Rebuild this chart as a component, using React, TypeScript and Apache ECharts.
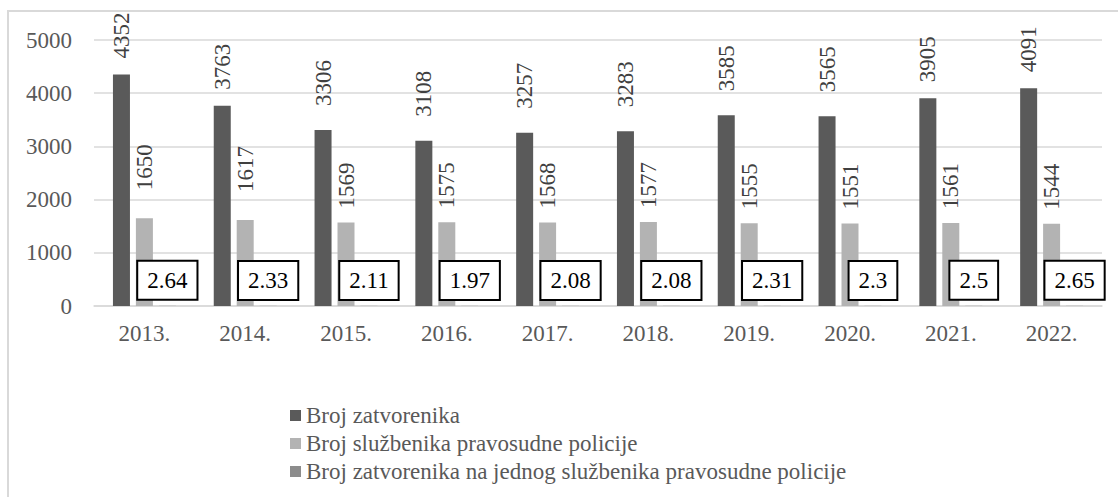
import React, { useEffect, useRef } from "react";
import * as echarts from "echarts";

const categories = ["2013.", "2014.", "2015.", "2016.", "2017.", "2018.", "2019.", "2020.", "2021.", "2022."];
const prisoners = [4352, 3763, 3306, 3108, 3257, 3283, 3585, 3565, 3905, 4091];
const officers = [1650, 1617, 1569, 1575, 1568, 1577, 1555, 1551, 1561, 1544];
const ratio = [2.64, 2.33, 2.11, 1.97, 2.08, 2.08, 2.31, 2.3, 2.5, 2.65];
const seriesNames = [
  "Broj zatvorenika",
  "Broj službenika pravosudne policije",
  "Broj zatvorenika na jednog službenika pravosudne policije",
];

const FONT = "Liberation Serif, Times New Roman, serif";

export default function App() {
  const ref = useRef<HTMLDivElement>(null);
  useEffect(() => {
    document.body.style.margin = "0";
    const chart = echarts.init(ref.current!, null, { renderer: "svg" });
    const rotLabel = (distance: number) => ({
      show: true,
      position: "top",
      rotate: 90,
      align: "left",
      verticalAlign: "middle",
      distance,
      fontFamily: FONT,
      fontSize: 23,
      color: "#404040",
    });
    // label placement as in the reference (some labels sit a bit higher)
    const darkDist = (i: number) => (i < 2 || i > 7 ? 16 : 24);
    const lightDist = (i: number) => (i < 2 ? 28 : 14);
    chart.setOption({
      animation: false,
      textStyle: { fontFamily: FONT },
      grid: { left: 94, right: 16, top: 40, bottom: 191, containLabel: false },
      legend: {
        orient: "vertical",
        left: 285,
        top: 399,
        itemWidth: 11,
        itemHeight: 11,
        itemGap: 5,
        icon: "rect",
        textStyle: { fontFamily: FONT, fontSize: 23, color: "#595959" },
        data: seriesNames,
      },
      xAxis: {
        type: "category",
        data: categories,
        axisLine: { lineStyle: { color: "#d9d9d9", width: 1.5 } },
        axisTick: { show: false },
        axisLabel: { fontFamily: FONT, fontSize: 23, color: "#595959", margin: 16 },
      },
      yAxis: {
        type: "value",
        min: 0,
        max: 5000,
        interval: 1000,
        axisLine: { show: false },
        axisTick: { show: false },
        splitLine: { lineStyle: { color: "#d9d9d9", width: 1.5 } },
        axisLabel: {
          fontFamily: FONT,
          fontSize: 23,
          color: "#595959",
          margin: 22,
          formatter: (v: number) => String(v),
        },
      },
      series: [
        {
          name: seriesNames[0],
          type: "bar",
          data: prisoners.map((v, i) => ({ value: v, label: { distance: darkDist(i) } })),
          barWidth: 17,
          barGap: "35%",
          itemStyle: { color: "#5a5a5a" },
          label: rotLabel(16),
        },
        {
          name: seriesNames[1],
          type: "bar",
          data: officers.map((v, i) => ({ value: v, label: { distance: lightDist(i) } })),
          barWidth: 17,
          barGap: "35%",
          itemStyle: { color: "#b3b3b3" },
          label: rotLabel(14),
        },
        {
          name: seriesNames[2],
          type: "bar",
          data: ratio,
          barWidth: 17,
          barGap: "35%",
          itemStyle: { color: "#8c8c8c" },
          label: {
            show: true,
            position: "top",
            distance: 7,
            fontFamily: FONT,
            fontSize: 23,
            lineHeight: 23,
            color: "#000000",
            backgroundColor: "#ffffff",
            borderColor: "#000000",
            borderWidth: 2,
            padding: [7, 9, 7, 9],
          },
        },
      ],
      graphic: [
        {
          type: "rect",
          shape: { x: 8, y: 11, width: 1200, height: 600 },
          style: { fill: "none", stroke: "#d9d9d9", lineWidth: 2 },
          silent: true,
          z: -10,
        },
      ],
    });
    return () => chart.dispose();
  }, []);
  return <div ref={ref} style={{ width: 1118, height: 497 }} />;
}
